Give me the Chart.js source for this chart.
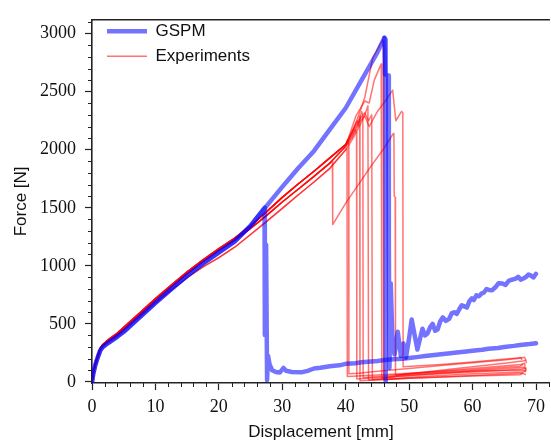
<!DOCTYPE html>
<html><head><meta charset="utf-8">
<script src="https://cdn.jsdelivr.net/npm/chart.js@4"></script>
<style>html,body{margin:0;padding:0;background:#fff;overflow:hidden}#wrap{width:551px;height:448px}</style>
</head><body><div id="wrap"><canvas id="c" width="551" height="448"></canvas></div>
<script>
// ---- tick labels ----
const xTicks = [0,10,20,30,40,50,60,70];
const yTicks = [0,500,1000,1500,2000,2500,3000];
const xMinorStep = 2, yMinorStep = 100;
const seriesNames = ['GSPM','Experiments'];

// ---- GSPM (simulation) ----
const gspmLoadX = [0,0.2,0.5,0.75,1,1.3,1.7,2.2,2.8,4,5,7.5,10,12.5,15,17.5,20,22.5,25];
const gspmLoadY = [0,70,140,185,225,270,300,322,345,390,432,555,680,800,915,1020,1115,1210,1345];
const gspm1X = [27.2,27.25,27.45,27.6,27.75,28.0,28.4,29.0,29.6,30.2,30.6,31.5,33,34,35,36,37.5,39,40,41.5,42.5,44,45,46.5,47.5,49,50,51.5,52.5,54,55,56.5,57.5,59,60,61.5,62.5,64,65,66.5,67.5,69,70];
const gspm1Y = [1500,403,1181,14,225,150,100,85,80,120,95,85,82,95,115,122,135,142,155,160,168,176,180,190,195,198,205,215,222,232,238,246,252,262,268,276,285,292,300,310,318,326,333];
const gspm2X = [27.5,30,32.5,35,37.5,40,42.5,45,46.1,46.25,46.3];
const gspm2Y = [1515,1680,1840,1990,2175,2360,2600,2840,2965,2950,5];
const gspm3X = [46.1,46.2,46.7,46.8,46.9,47.1,47.4,47.7,48.2,48.7,49.1,49.5,50.0,50.4,51.3,52.1,52.5,52.9,53.3,53.7,54.1,54.5,54.9,55.3,55.8,56.3,56.7,57.1,57.5,57.9,58.3,58.7,59.1,59.5,59.9,60.2,60.6,61.0,61.4,61.8,62.2,62.6,63.1,63.6,64.1,64.7,65.2,65.7,66.2,66.8,67.2,67.6,68.0,68.4,68.8,69.2,69.6,70];
const gspm3Y = [2965,2650,2640,1200,120,848,300,237,431,222,330,208,380,537,278,458,400,417,470,500,440,453,520,556,525,542,590,600,585,625,660,650,640,695,720,705,745,737,760,770,800,792,790,815,850,848,835,870,880,889,905,880,890,903,925,915,900,931];

// ---- Experiments: shared loading branches ----
const expLoadX = [0,0.2,0.5,0.75,1,1.3,1.7,2.2,2.8,4,5,7.5,10,12.5,15,17.5,20,22.5,25,27.5,30,32.5,35,37.5];
const expLoadA = [0,75,150,200,242,290,322,346,372,420,470,592,718,833,948,1052,1148,1238,1345,1465,1590,1705,1815,1930];
const expLoadB = [0,72,145,193,235,282,314,338,362,408,456,578,703,818,933,1038,1132,1222,1322,1432,1550,1660,1770,1885];
const expLoadC = [0,68,138,185,226,272,304,327,350,395,444,562,682,792,897,990,1070,1160,1270,1380,1495,1610,1722,1840];

// ---- Experiments: individual failure / post-failure parts ----
const exp1X = [40,40.3,40.45,40.5,42,45,50,55,60,65,67.4,68.2,68.4];
const exp1Y = [2045,2085,2062,70,75,92,115,140,165,188,203,212,185];
const exp2X = [40,41,41.5,41.7,41.75,45,50,55,60,65,67.8,68.3,68.4];
const exp2Y = [2030,2120,2175,2150,25,38,55,70,85,100,110,120,95];
const exp3X = [40,41,41.8,42.0,42.2,42.25,50,60,68,68.4];
const exp3Y = [2045,2150,2250,2205,2290,10,30,55,75,60];
const exp4X = [40,41,42,42.5,42.7,42.75,50,60,67.6,68.2,68.3];
const exp4Y = [2030,2105,2215,2330,2300,35,70,115,150,160,130];
const exp5X = [40,41,42,43,43.5,43.6,50,60,67.5,67.9];
const exp5Y = [2000,2085,2185,2300,2380,15,30,50,62,75];
const exp6X = [40,41,42,43,43.6,44.1,44.2,50,60,68.2,68.4];
const exp6Y = [2045,2160,2250,2320,2250,2300,20,55,95,125,105];
const exp7X = [40,41.6,43,43.7,44.5,45.6,45.7,50,55,60,65,67.9,68.4,68.5];
const exp7Y = [2030,2290,2420,2403,2600,2740,30,70,100,130,160,180,185,160];
const exp8X = [37.9,37.95,40,42,44,46,47.5,47.6,47.65,47.8,47.85,55,62,68.2,68.4];
const exp8Y = [1900,1355,1540,1700,1860,2010,2140,2120,1600,1590,60,80,95,100,85];
const exp9X = [40,41,42,43,43.7,45,46.5,47.4,47.9,48.8,49.0,49.05,55,60,67,67.6,67.8];
const exp9Y = [2045,2140,2230,2290,2200,2330,2440,2514,2250,2330,2320,130,150,170,205,210,190];
const exp10X = [40,40.1,40.2,40.25,45,50,55,60,65,67.5,68];
const exp10Y = [2000,2010,1990,45,60,75,90,105,125,135,150];
const exp11X = [40,41,42,43,44.25,45.8,45.95,46.0,50,60,68,68.3];
const exp11Y = [2045,2150,2290,2450,2790,2945,2930,15,40,70,85,95];

// ---- build datasets ----
function pts(xs, ys){ return xs.map((x,i)=>({x:x, y:ys[i]})); }
const BLUE = 'rgba(0,0,255,0.55)', RED = 'rgba(255,0,0,0.55)';
const gspmRuns = [
  pts(gspmLoadX.concat(gspm1X), gspmLoadY.concat(gspm1Y)),
  pts(gspmLoadX.concat(gspm2X), gspmLoadY.concat(gspm2Y)),
  pts(gspm3X, gspm3Y)
];
const expRuns = [
  [expLoadA, exp1X, exp1Y],[expLoadB, exp2X, exp2Y],[expLoadA, exp3X, exp3Y],
  [expLoadB, exp4X, exp4Y],[expLoadC, exp5X, exp5Y],[expLoadA, exp6X, exp6Y],
  [expLoadB, exp7X, exp7Y],[expLoadB, exp8X, exp8Y],[expLoadA, exp9X, exp9Y],
  [expLoadC, exp10X, exp10Y],[expLoadA, exp11X, exp11Y]
].map(r => pts(expLoadX.concat(r[1]), r[0].concat(r[2])));

const datasets = [];
gspmRuns.forEach(d => datasets.push({label:seriesNames[0], data:d, borderColor:BLUE, backgroundColor:BLUE, borderWidth:4.5, borderJoinStyle:'round', borderCapStyle:'round'}));
const firstExp = datasets.length;
expRuns.forEach(d => datasets.push({label:seriesNames[1], data:d, borderColor:RED, backgroundColor:RED, borderWidth:1.5, borderJoinStyle:'round'}));

const extras = {
  id:'extras',
  afterLayout(chart){
    const lg = chart.legend, ca = chart.chartArea;
    if (!lg) return;
    const w = lg.width, h = lg.height;
    lg.left = ca.left + 7; lg.top = ca.top - 5; lg.right = lg.left + w; lg.bottom = lg.top + h;
  },
  afterDraw(chart){
    const ctx = chart.ctx, ca = chart.chartArea, xs = chart.scales.x, ys = chart.scales.y;
    ctx.save();
    ctx.strokeStyle = '#222'; ctx.lineWidth = 1;
    for (let v = xMinorStep; v <= xs.max; v += xMinorStep) {
      if (Math.abs(v % 10) < 1e-9) continue;
      const p = Math.round(xs.getPixelForValue(v)) + 0.5;
      ctx.beginPath(); ctx.moveTo(p, ca.bottom); ctx.lineTo(p, ca.bottom + 4); ctx.stroke();
    }
    for (let v = yMinorStep; v <= ys.max; v += yMinorStep) {
      if (Math.abs(v % 500) < 1e-9) continue;
      const p = Math.round(ys.getPixelForValue(v)) + 0.5;
      ctx.beginPath(); ctx.moveTo(ca.left, p); ctx.lineTo(ca.left - 4, p); ctx.stroke();
    }
    ctx.lineWidth = 1.6;
    ctx.beginPath(); ctx.moveTo(ca.left, ca.top); ctx.lineTo(ca.right, ca.top); ctx.stroke();
    ctx.restore();
  }
};

new Chart(document.getElementById('c'), {
  type:'line',
  data:{datasets:datasets},
  plugins:[extras],
  options:{
    responsive:false, animation:false, devicePixelRatio:1,
    layout:{padding:{top:7,right:0,left:0,bottom:0}, autoPadding:false},
    elements:{point:{radius:0}, line:{tension:0}},
    plugins:{
      tooltip:{enabled:false},
      legend:{position:'chartArea', align:'start',
        labels:{usePointStyle:true, pointStyle:'line', pointStyleWidth:40, padding:8,
          font:{family:'Liberation Sans', size:17}, color:'#111',
          filter:(item)=> item.datasetIndex===0 || item.datasetIndex===firstExp}}
    },
    scales:{
      x:{type:'linear', min:0, max:72.2,
        afterBuildTicks:s=>{ s.ticks = xTicks.map(v=>({value:v})); },
        afterFit:s=>{ s.height = 65; },
        grid:{drawOnChartArea:false, drawTicks:true, tickLength:7, tickColor:'#222', tickWidth:1.2},
        border:{display:true, color:'#222', width:1.6},
        ticks:{font:{family:'Liberation Serif', size:18}, color:'#111', padding:6, maxRotation:0, autoSkip:false, callback:v=>String(v)},
        title:{display:true, text:'Displacement [mm]', font:{family:'Liberation Sans', size:17}, color:'#111', padding:{top:0,bottom:5}}
      },
      y:{type:'linear', min:-10, max:3120,
        afterBuildTicks:s=>{ s.ticks = yTicks.map(v=>({value:v})); },
        afterFit:s=>{ s.width = 92; },
        grid:{drawOnChartArea:false, drawTicks:true, tickLength:7, tickColor:'#222', tickWidth:1.2},
        border:{display:true, color:'#222', width:1.6},
        ticks:{font:{family:'Liberation Serif', size:18}, color:'#111', padding:9, autoSkip:false, callback:v=>String(v)},
        title:{display:true, text:'Force [N]', font:{family:'Liberation Sans', size:17}, color:'#111', padding:{top:11,bottom:0}}
      }
    }
  }
});
</script></body></html>
